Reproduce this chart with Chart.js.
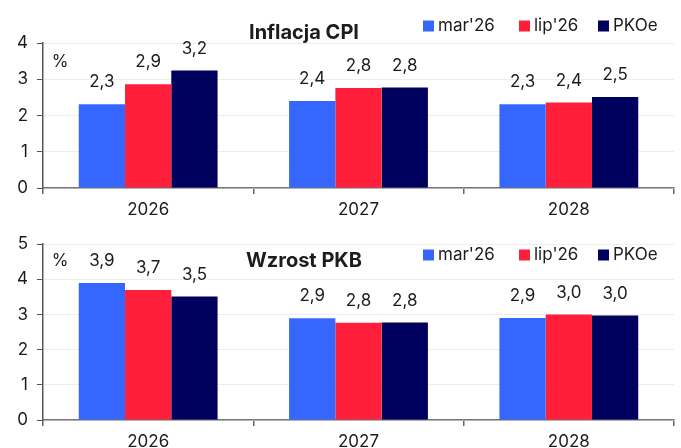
<!DOCTYPE html>
<html>
<head>
<meta charset="utf-8">
<script src="https://cdn.jsdelivr.net/npm/chart.js@4"></script>
<style>
  html, body { margin: 0; padding: 0; background: #fff; }
  .box { position: absolute; left: 0; width: 681px; height: 224px; overflow: hidden; }
</style>
</head>
<body>
<div class="box" style="top:0"><canvas id="cpi" width="681" height="224"></canvas></div>
<div class="box" style="top:224px"><canvas id="gdp" width="681" height="224"></canvas></div>
<script>
const years = ['2026', '2027', '2028'];
const seriesNames = ["mar'26", "lip'26", 'PKOe'];
const seriesColors = ['#3567ff', '#ff1f3a', '#00005e'];

const cpiMar = [2.31, 2.40, 2.31];
const cpiLip = [2.86, 2.76, 2.36];
const cpiPko = [3.24, 2.77, 2.51];

const gdpMar = [3.89, 2.89, 2.90];
const gdpLip = [3.69, 2.76, 3.00];
const gdpPko = [3.51, 2.77, 2.97];

const FONT = 'Inter, "Noto Sans", sans-serif';
const TXT = '#1c1c1c';

// title, legend, "%" and value labels drawn on top of the bars
const overlay = {
    id: 'overlay',
    afterDatasetsDraw(chart, args, o) {
        const c = chart.ctx;
        c.save();
        c.fillStyle = TXT;
        c.textBaseline = 'middle';

        c.font = '17px ' + FONT;
        c.textAlign = 'center';
        chart.data.datasets.forEach((ds, i) => {
            chart.getDatasetMeta(i).data.forEach((bar, j) => {
                const t = ds.data[j].toFixed(1).replace('.', ',');
                c.fillText(t, bar.x, bar.y - 22);
            });
        });

        c.fillText('%', 60, o.pctY);

        c.font = 'bold 20px ' + FONT;
        c.fillText(o.title, 304, o.titleY);

        c.font = '17px ' + FONT;
        c.textAlign = 'left';
        const xs = [423, 519, 598];
        chart.data.datasets.forEach((ds, i) => {
            c.fillStyle = ds.backgroundColor;
            c.fillRect(xs[i], o.legendY - 5.5, 11, 11);
            c.fillStyle = TXT;
            c.fillText(ds.label, xs[i] + 15, o.legendY);
        });
        c.restore();
    }
};

function makeChart(id, values, yMax, top, xHeight, opts) {
    return new Chart(document.getElementById(id), {
        type: 'bar',
        data: {
            labels: years,
            datasets: values.map((v, i) => ({
                label: seriesNames[i],
                data: v,
                backgroundColor: seriesColors[i],
                categoryPercentage: 0.66,
                barPercentage: 1.0
            }))
        },
        options: {
            responsive: false,
            animation: false,
            layout: { padding: { top: top, right: 7, left: 0, bottom: 0 } },
            plugins: {
                legend: { display: false },
                tooltip: { enabled: false },
                overlay: opts
            },
            scales: {
                x: {
                    offset: true,
                    grid: { display: true, drawOnChartArea: false, offset: true, tickLength: 6, tickColor: '#666', lineWidth: 1.5 },
                    border: { color: '#777', width: 1.5 },
                    ticks: { color: TXT, font: { family: FONT, size: 17 }, padding: 6 },
                    afterFit: (s) => { s.height = xHeight; }
                },
                y: {
                    min: 0,
                    max: yMax,
                    ticks: { stepSize: 1, color: TXT, font: { family: FONT, size: 17 }, padding: 9 },
                    grid: { color: '#ededed', tickColor: '#555', tickLength: 6 },
                    border: { color: '#555', width: 1.5 },
                    afterFit: (s) => { s.width = 43; }
                }
            }
        },
        plugins: [overlay]
    });
}

makeChart('cpi', [cpiMar, cpiLip, cpiPko], 4, 43, 36,
    { title: 'Inflacja CPI', titleY: 33, legendY: 26, pctY: 62 });
makeChart('gdp', [gdpMar, gdpLip, gdpPko], 5, 20, 28,
    { title: 'Wzrost PKB', titleY: 37, legendY: 31, pctY: 37 });
</script>
</body>
</html>
